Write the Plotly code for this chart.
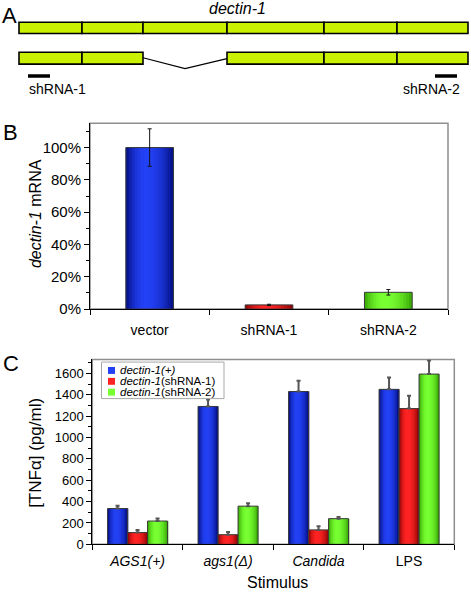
import math
import plotly.graph_objects as go

# ---------------- Panel A: gene schematic (arbitrary gene units) ----------------
exon_edges = [0, 63, 124, 208, 305, 378, 449]
skipped_exon = 2
shrna_names = ["shRNA-1", "shRNA-2"]
shrna_starts = [9, 416]
shrna_ends = [31, 438]

# ---------------- Panel B: dectin-1 mRNA ----------------
b_categories = ["vector", "shRNA-1", "shRNA-2"]
b_values = [100, 2.6, 10.4]
b_errors = [11.6, 0.4, 1.7]

# ---------------- Panel C: TNF-alpha ----------------
c_categories = ["<i>AGS1(+)</i>", "<i>ags1(Δ)</i>", "<i>Candida</i>", "LPS"]
c_series = ["<i>dectin-1(+)</i>", "<i>dectin-1</i>(shRNA-1)", "<i>dectin-1</i>(shRNA-2)"]
c_plus = [335, 1290, 1430, 1450]
c_sh1 = [110, 90, 135, 1270]
c_sh2 = [218, 357, 240, 1593]
c_plus_err = [27, 65, 100, 112]
c_sh1_err = [25, 25, 35, 120]
c_sh2_err = [24, 27, 15, 128]

W, H = 471, 598
FONT = "Liberation Sans, Arial, sans-serif"

# gradient palettes (edge, centre)
BLUE = ((0, 10, 120), (35, 65, 245))
RED = ((130, 0, 0), (255, 35, 35))
GREEN = ((50, 160, 0), (120, 255, 50))


def px(x):
    return x / W


def py(y):
    return 1 - y / H


def grad(pal, t, peak=0.42):
    edge, center = pal
    u = t / peak if t <= peak else (1 - t) / (1 - peak)
    s = math.sin(max(0.0, min(1.0, u)) * math.pi / 2) ** 0.8
    c = [round(e + (m - e) * s) for e, m in zip(edge, center)]
    return "rgb(%d,%d,%d)" % tuple(c)


def gradient_bars(fig, x, y, left, width, pals, xa, ya, err, err_minus, err_style, n=16):
    step = width / n
    for j in range(n):
        t = (j + 0.5) / n
        w = min(step * 1.7, width - j * step)
        fig.add_trace(go.Bar(
            x=x, y=y, offset=left + j * step, width=w,
            marker=dict(color=[grad(p, t) for p in pals], line=dict(width=0)),
            xaxis=xa, yaxis=ya, showlegend=False, hoverinfo="skip"))
    fig.add_trace(go.Bar(
        x=x, y=y, offset=left, width=width,
        marker=dict(color="rgba(0,0,0,0)", line=dict(color="#3a3a3a", width=1)),
        error_y=dict(type="data", array=err, arrayminus=err_minus, symmetric=False, **err_style),
        xaxis=xa, yaxis=ya, showlegend=False, hoverinfo="skip"))


fig = go.Figure()

# Panel B bars
gradient_bars(fig, b_categories, b_values, -0.2, 0.4, [BLUE, RED, GREEN], "x", "y",
              b_errors, b_errors, dict(color="#111111", thickness=1, width=2))

# Panel C bars
bw = 0.221
series_vals = [c_plus, c_sh1, c_sh2]
series_err = [c_plus_err, c_sh1_err, c_sh2_err]
series_pal = [BLUE, RED, GREEN]
for k in range(3):
    gradient_bars(fig, c_categories, series_vals[k], -1.5 * bw + k * bw, bw,
                  [series_pal[k]] * 4, "x2", "y2", series_err[k], [0] * 4,
                  dict(color="#555555", thickness=2, width=2))

shapes = []
annotations = []

# ---- Panel A schematic ----
EXON_FILL = "#c8f000"
for i in range(len(exon_edges) - 1):
    shapes.append(dict(type="rect", xref="x3", yref="y3", x0=exon_edges[i], x1=exon_edges[i + 1],
                       y0=22.5, y1=34, fillcolor=EXON_FILL, line=dict(color="black", width=1.6)))
    if i != skipped_exon:
        shapes.append(dict(type="rect", xref="x3", yref="y3", x0=exon_edges[i], x1=exon_edges[i + 1],
                           y0=53, y1=65, fillcolor=EXON_FILL, line=dict(color="black", width=1.6)))
a0, a1 = exon_edges[skipped_exon], exon_edges[skipped_exon + 1]
mid = (a0 + a1) / 2
shapes.append(dict(type="path", xref="x3", yref="y3",
                   path="M %s,58.5 L %s,69.5 L %s,59.5" % (a0, mid, a1),
                   line=dict(color="black", width=1.2)))
for name, s, e in zip(shrna_names, shrna_starts, shrna_ends):
    shapes.append(dict(type="rect", xref="x3", yref="y3", x0=s, x1=e, y0=75.3, y1=78.7,
                       fillcolor="black", line=dict(width=0)))
annotations.append(dict(xref="x3", yref="y3", x=shrna_starts[0] - 1, y=90, text=shrna_names[0],
                        showarrow=False, xanchor="left", yanchor="middle", font=dict(size=14)))
annotations.append(dict(xref="x3", yref="y3", x=shrna_ends[1] + 5, y=90, text=shrna_names[1],
                        showarrow=False, xanchor="right", yanchor="middle", font=dict(size=14)))
annotations.append(dict(xref="x3", yref="y3", x=mid + 52, y=8.5, text="<i>dectin-1</i>",
                        showarrow=False, xanchor="center", yanchor="middle", font=dict(size=16)))

# panel letters
annotations.append(dict(xref="paper", yref="paper", x=px(1), y=py(2.5), text="A", borderpad=0,
                        showarrow=False, xanchor="left", yanchor="top", font=dict(size=22)))
for letter, yy in [("B", 134), ("C", 368)]:
    annotations.append(dict(xref="paper", yref="paper", x=px(1), y=py(yy), text=letter,
                            showarrow=False, xanchor="left", yanchor="middle", font=dict(size=22)))

# axis titles
annotations.append(dict(xref="paper", yref="paper", x=px(35), y=py(217), text="<i>dectin-1</i> mRNA",
                        textangle=-90, showarrow=False, xanchor="center", yanchor="middle",
                        font=dict(size=16)))
annotations.append(dict(xref="paper", yref="paper", x=px(36), y=py(459), text="[TNFα] (pg/ml)",
                        textangle=-90, showarrow=False, xanchor="center", yanchor="middle",
                        font=dict(size=17)))
annotations.append(dict(xref="paper", yref="paper", x=px(277), y=py(590), text="Stimulus",
                        showarrow=False, xanchor="center", yanchor="middle", font=dict(size=16)))

# frames (gray top/right)
for xr, yr in [("x", "y"), ("x2", "y2")]:
    shapes.append(dict(type="rect", xref=xr + " domain", yref=yr + " domain", x0=0, x1=1, y0=0, y1=1,
                       line=dict(color="#8f8f8f", width=1.5), layer="below"))

# manual legend for panel C
shapes.append(dict(type="rect", xref="paper", yref="paper", x0=px(101.5), x1=px(224), y0=py(367), y1=py(404),
                   fillcolor="white", line=dict(color="#a8a8a8", width=1)))
for k, yc in enumerate([375.5, 386.5, 397.5]):
    shapes.append(dict(type="rect", xref="paper", yref="paper", x0=px(108), x1=px(115),
                       y0=py(yc + 3.5), y1=py(yc - 3.5), fillcolor=grad(series_pal[k], 0.42),
                       line=dict(width=0)))
    annotations.append(dict(xref="paper", yref="paper", x=px(118), y=py(yc), text=c_series[k],
                            showarrow=False, xanchor="left", yanchor="middle", font=dict(size=11.5)))

common_y = dict(showgrid=False, zeroline=False, showline=True, linecolor="black", linewidth=1,
                ticks="outside", ticklen=5, tickcolor="black", tickwidth=1)
common_x = dict(showgrid=False, zeroline=False, showline=True, linecolor="black", linewidth=1,
                ticks="outside", ticklen=5, tickcolor="black", tickwidth=1, type="category",
                tickson="boundaries")

fig.update_layout(
    width=W, height=H, margin=dict(l=0, r=0, t=0, b=0),
    paper_bgcolor="white", plot_bgcolor="rgba(0,0,0,0)",
    barmode="overlay", showlegend=False,
    font=dict(family=FONT, color="black"),
    xaxis=dict(domain=[px(90), px(448)], anchor="y", range=[-0.5, 2.5],
               tickfont=dict(size=14), ticklabelstandoff=8, **common_x),
    yaxis=dict(domain=[py(313.3), py(125)], anchor="x", range=[0, 115], dtick=20, tick0=0,
               ticksuffix="%", tickfont=dict(size=15),
               minor=dict(dtick=10, ticks="outside", ticklen=3, tickcolor="black", showgrid=False),
               **common_y),
    xaxis2=dict(domain=[px(92.3), px(454.3)], anchor="y2", range=[-0.5, 3.5],
                tickfont=dict(size=14), ticklabelstandoff=4, **common_x),
    yaxis2=dict(domain=[py(551.7), py(364.3)], anchor="x2", range=[0, 1730], dtick=200, tick0=0,
                tickfont=dict(size=13),
                minor=dict(dtick=100, ticks="outside", ticklen=3, tickcolor="black", showgrid=False),
                **common_y),
    xaxis3=dict(domain=[0, 1], anchor="y3", range=[-19, 452], visible=False),
    yaxis3=dict(domain=[py(100), 1], anchor="x3", range=[100, 0], visible=False),
    shapes=shapes, annotations=annotations,
)

fig.write_html("out.html", config={"displayModeBar": False},
               post_script="document.body.style.margin='0';")
